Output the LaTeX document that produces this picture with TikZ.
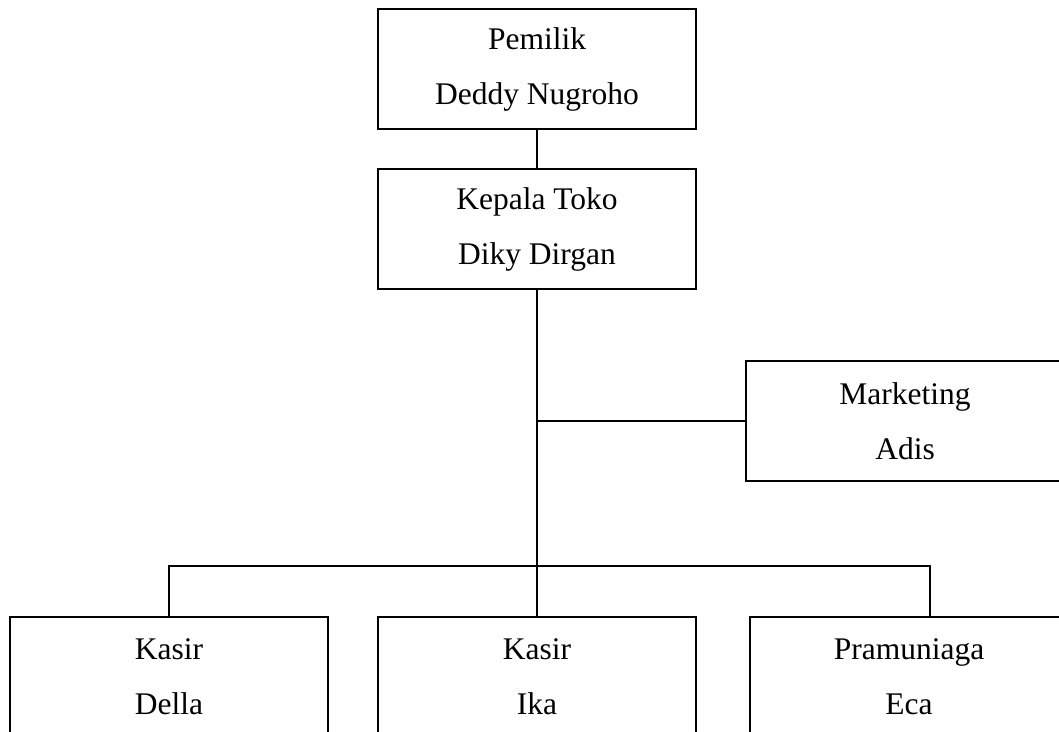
\documentclass[tikz,border=0pt]{standalone}
\usepackage{fontspec}
\setmainfont{Liberation Serif}
\begin{document}
\begin{tikzpicture}[x=0.5pt,y=-0.5pt]
        % Styles
        \tikzstyle{org box}=[draw,line width=1pt,minimum width=159pt,minimum height=60pt,align=center,inner sep=0pt,font=\fontsize{15.75}{27.5}\selectfont]
        \tikzstyle{org line}=[line width=1pt]
        %frame
        \useasboundingbox (0,0) rectangle (1059,732);
        \clip (0,0) rectangle (1059,732);
        %boxes
        \node[style=org box] (pemilik) at (537,69) {Pemilik\\Deddy Nugroho};
        \node[style=org box] (kepala) at (537,229) {Kepala Toko\\Diky Dirgan};
        \node[style=org box] (marketing) at (905,421) {Marketing\\Adis};
        \node[style=org box] (kasir della) at (169,677) {Kasir\\Della};
        \node[style=org box] (kasir ika) at (537,677) {Kasir\\Ika};
        \node[style=org box] (pramuniaga) at (909,677) {Pramuniaga\\Eca};
        %lines
        \coordinate (bus) at (537,566);
        \coordinate (bus right) at (930,566);
        \draw[style=org line] (pemilik) -- (kepala);
        \draw[style=org line] (kepala) -- (kasir ika);
        \draw[style=org line] (kepala.south |- marketing.west) -- (marketing.west);
        \draw[style=org line] (kasir della.north) -- (kasir della.north |- bus) -- (bus right) -- (bus right |- pramuniaga.north);
\end{tikzpicture}
\end{document}
